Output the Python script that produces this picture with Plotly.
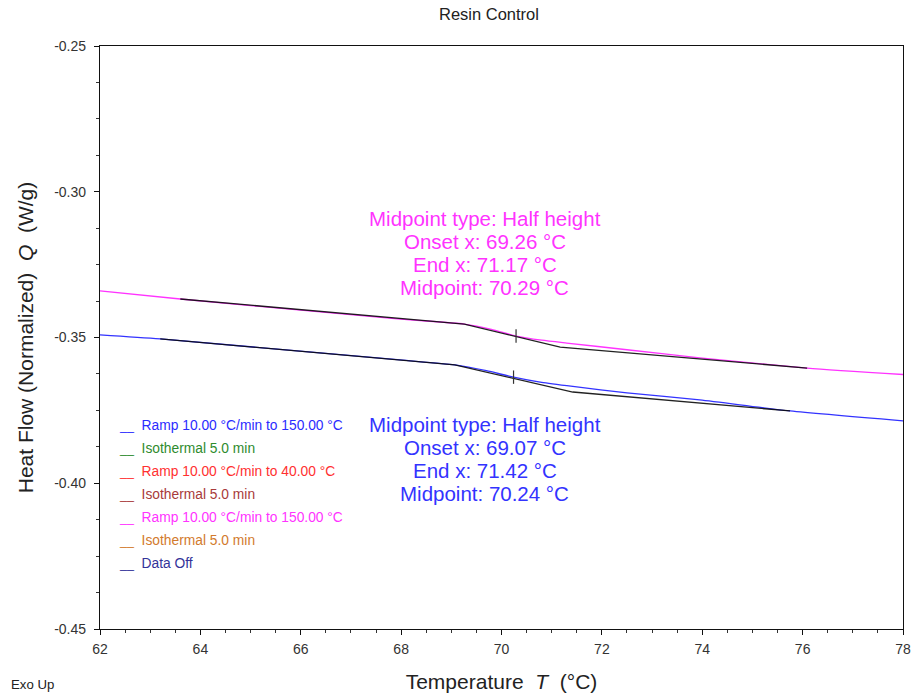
import plotly.graph_objects as go

# Second heating ramp (magenta) and first heating ramp (blue) heat-flow curves
temp_second = [62.0, 63.6, 67.98, 69.26, 69.8, 70.29, 70.8, 71.3, 72.5, 73.95, 76.09, 78.0]
flow_second = [-0.3340, -0.3368, -0.3437, -0.3454, -0.3472, -0.3495, -0.3509, -0.3519, -0.3542, -0.3570, -0.3605, -0.3627]

temp_first = [62.0, 63.2, 67.98, 69.07, 69.7, 70.24, 70.8, 71.42, 72.5, 73.95, 75.75, 78.0]
flow_first = [-0.3491, -0.3505, -0.3577, -0.3594, -0.3614, -0.3636, -0.3654, -0.3668, -0.3690, -0.3714, -0.3752, -0.3786]

# Glass-transition tangent constructions (onset, inflection, end)
tan_second_x = [63.6, 69.26, 71.17, 76.09]
tan_second_y = [-0.3368, -0.3454, -0.3533, -0.3605]
tan_first_x = [63.2, 69.07, 71.42, 75.75]
tan_first_y = [-0.3505, -0.3594, -0.3687, -0.3752]

# Midpoint markers
mid_second = (70.29, -0.3495)
mid_first = (70.24, -0.3636)

results_second = ["Midpoint type: Half height", "Onset x: 69.26 °C", "End x: 71.17 °C", "Midpoint: 70.29 °C"]
results_first = ["Midpoint type: Half height", "Onset x: 69.07 °C", "End x: 71.42 °C", "Midpoint: 70.24 °C"]

legend_names = ["Ramp 10.00 °C/min to 150.00 °C", "Isothermal 5.0 min", "Ramp 10.00 °C/min to 40.00 °C",
                "Isothermal 5.0 min", "Ramp 10.00 °C/min to 150.00 °C", "Isothermal 5.0 min", "Data Off"]
legend_colors = ["#2b2bff", "#2e8b2e", "#ff3030", "#a83a3a", "#ff33ff", "#d27a2d", "#333399"]

x_ticks = [62, 64, 66, 68, 70, 72, 74, 76, 78]
y_ticks = [-0.45, -0.40, -0.35, -0.30, -0.25]

MAGENTA = "#ff33ff"
BLUE = "#3333ff"
FONT = "Liberation Sans, Arial"

fig = go.Figure()
fig.add_trace(go.Scatter(x=temp_second, y=flow_second, mode="lines", line=dict(color=MAGENTA, width=1.3, shape="spline", smoothing=0.6)))
fig.add_trace(go.Scatter(x=temp_first, y=flow_first, mode="lines", line=dict(color=BLUE, width=1.3, shape="spline", smoothing=0.6)))
fig.add_trace(go.Scatter(x=tan_second_x, y=tan_second_y, mode="lines", line=dict(color="rgba(10,10,10,0.9)", width=1.3)))
fig.add_trace(go.Scatter(x=tan_first_x, y=tan_first_y, mode="lines", line=dict(color="rgba(10,10,10,0.9)", width=1.3)))
tick_half = 0.0023
for mx, my in (mid_second, mid_first):
    fig.add_trace(go.Scatter(x=[mx, mx], y=[my - tick_half, my + tick_half], mode="lines",
                             line=dict(color="#333333", width=1.2)))

# Analysis result blocks, one text row per line with tight line spacing
line_gap = 23.1
for lines, color, y_top in ((results_second, MAGENTA, -0.3092), (results_first, BLUE, -0.3799)):
    for i, txt in enumerate(lines):
        fig.add_annotation(x=69.67, y=y_top, xref="x", yref="y", yshift=-line_gap * i, text=txt,
                           showarrow=False, yanchor="middle",
                           font=dict(size=20.5, color=color, family=FONT), align="center")

# Segment legend drawn as coloured text rows
plot_h = 583.0
plot_w = 803.0
for i, (name, col) in enumerate(zip(legend_names, legend_colors)):
    py = 425 + 23 * i
    fig.add_annotation(x=(117 - 100) / plot_w, y=1 - (py - 46) / plot_h, xref="paper", yref="paper",
                       xanchor="left", yanchor="middle", showarrow=False, align="left",
                       text="<span style='font-size:12.5px'>__</span>&nbsp; " + name,
                       font=dict(size=13.8, color=col, family=FONT))

fig.add_annotation(x=(9 - 100) / plot_w, y=1 - (684 - 46) / plot_h, xref="paper", yref="paper",
                   xanchor="left", yanchor="middle", showarrow=False, text="Exo Up",
                   font=dict(size=13.2, color="#222222", family=FONT))

axis_common = dict(showline=True, linecolor="#111111", linewidth=1.3, mirror=True, showgrid=False,
                   zeroline=False, ticks="outside", ticklen=5, tickcolor="#111111", automargin=False,
                   tickfont=dict(size=14, color="#333333", family=FONT))

fig.update_layout(
    width=914, height=696,
    margin=dict(l=100, r=11, t=46, b=67),
    paper_bgcolor="white", plot_bgcolor="white",
    showlegend=False,
    title=dict(text="Resin Control", x=0.535, xanchor="center", y=0.98, yanchor="middle",
               font=dict(size=16.5, color="#222222", family=FONT)),
    xaxis=dict(range=[62, 78], tickvals=x_ticks, ticktext=[str(v) for v in x_ticks],
               ticklabelstandoff=2,
               minor=dict(dtick=0.5, tick0=62, ticks="outside", ticklen=3, tickcolor="#333333"),
               title=dict(text="Temperature  <i>T</i>  (°C)", standoff=18,
                          font=dict(size=21, color="#222222", family=FONT)),
               **axis_common),
    yaxis=dict(range=[-0.45, -0.25], tickvals=y_ticks, ticktext=["%.2f" % v for v in y_ticks],
               ticklabelstandoff=5,
               minor=dict(dtick=0.0125, tick0=-0.45, ticks="outside", ticklen=3, tickcolor="#333333"),
               title=dict(text="Heat Flow (Normalized)  <i>Q</i>  (W/g)", standoff=14,
                          font=dict(size=21, color="#222222", family=FONT)),
               **axis_common),
)

fig.write_html("out.html")
